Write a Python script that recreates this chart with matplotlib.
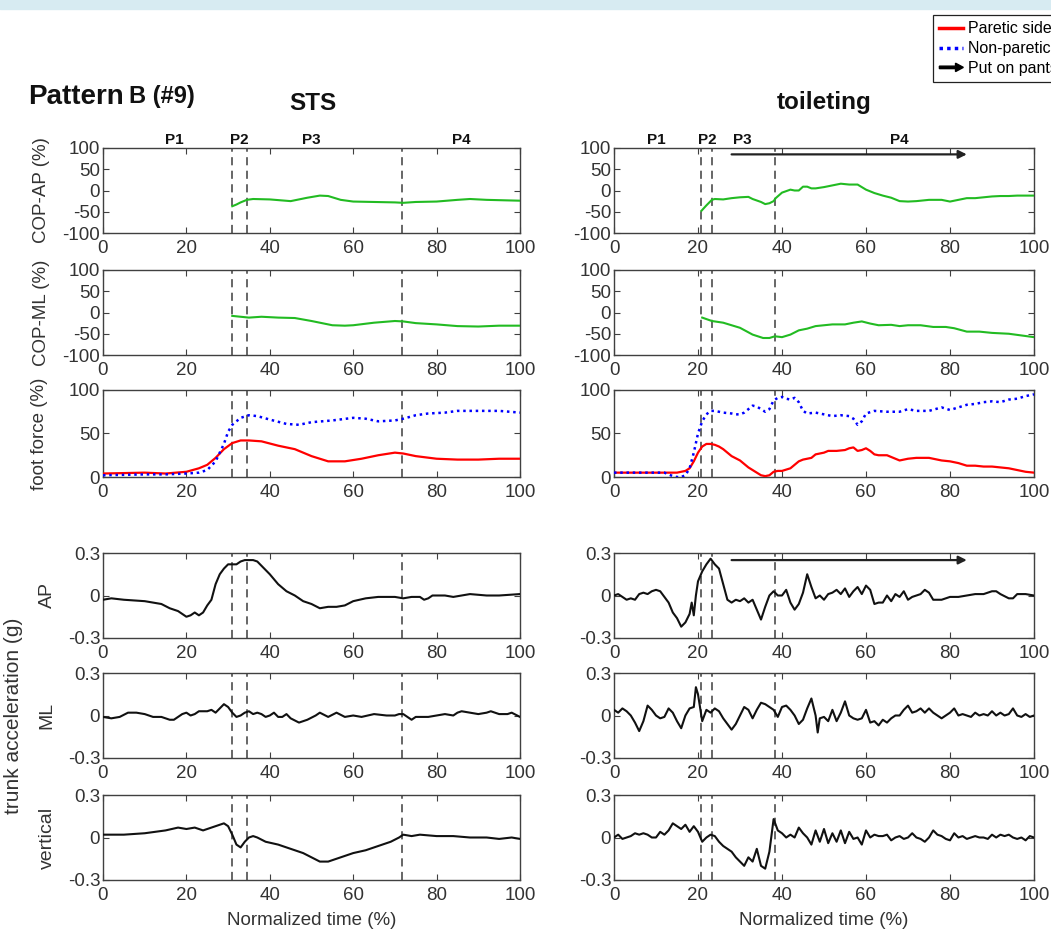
import matplotlib
matplotlib.use("Agg")
import matplotlib.pyplot as plt
from matplotlib.legend_handler import HandlerBase
from matplotlib.patches import FancyArrow, Rectangle
from matplotlib.lines import Line2D

plt.rcParams['font.family'] = ['Liberation Sans', 'DejaVu Sans']
plt.rcParams['axes.unicode_minus'] = False

# ---------------- data ----------------
phase_sts = [31, 34.5, 71.7]
phase_toi = [20.8, 23.3, 38.3]
phase_labels = ["P1", "P2", "P3", "P4"]
phase_label_x_sts = [17, 32.8, 50, 86]
phase_label_x_toi = [10, 22.2, 30.5, 68]
arrow_x_toi = [28, 84]

# STS COP-AP
sts_cop_ap_x = [31, 32, 33, 34.5, 36, 40, 45, 49, 52, 54, 57, 60, 65, 70, 72, 75, 80, 85, 88, 92, 96, 100]
sts_cop_ap_y = [-37, -33, -28, -22, -20, -21, -25, -17, -12, -13, -22, -26, -27, -28, -29, -27, -26, -22, -20, -22, -23, -24]
# STS COP-ML
sts_cop_ml_x = [31, 33, 35, 38, 42, 46, 50, 55, 58, 60, 65, 70, 72, 75, 80, 85, 90, 95, 100]
sts_cop_ml_y = [-8, -10, -12, -10, -12, -13, -20, -30, -31, -30, -24, -20, -21, -25, -28, -32, -33, -31, -31]
# STS foot force
sts_red_x = [0, 10, 15, 20, 23, 25, 27, 29, 31, 33, 35, 38, 42, 46, 50, 54, 58, 62, 66, 70, 72, 75, 80, 85, 90, 95, 100]
sts_red_y = [4, 5, 4, 6, 10, 14, 22, 32, 39, 42, 42, 41, 36, 32, 24, 18, 18, 21, 25, 28, 27, 24, 21, 20, 20, 21, 21]
sts_blue_x = [0, 10, 15, 20, 23, 25, 27, 29, 30, 31, 33, 35, 37, 40, 44, 47, 50, 55, 60, 63, 66, 70, 72, 75, 78, 82, 85, 90, 95, 100]
sts_blue_y = [2, 3, 3, 4, 5, 8, 18, 38, 52, 60, 68, 71, 70, 66, 61, 60, 63, 65, 68, 67, 64, 65, 67, 71, 73, 74, 76, 76, 76, 74]
# STS trunk acceleration AP
sts_ap_x = [0, 2, 5, 10, 14, 16, 18, 20, 21, 22, 23, 24, 25, 26, 27, 28, 29, 30, 31, 32, 33, 34, 36, 37, 38, 40, 42, 44, 46, 48, 50, 52, 54, 56, 58, 60, 63, 66, 70, 72, 74, 76, 77, 78, 79, 82, 84, 88, 92, 95, 100]
sts_ap_y = [-0.03, -0.02, -0.03, -0.04, -0.06, -0.09, -0.11, -0.15, -0.14, -0.12, -0.14, -0.12, -0.07, -0.03, 0.08, 0.15, 0.19, 0.22, 0.22, 0.22, 0.24, 0.25, 0.25, 0.24, 0.21, 0.15, 0.08, 0.03, 0.0, -0.04, -0.06, -0.09, -0.08, -0.08, -0.07, -0.04, -0.02, -0.01, -0.01, -0.02, -0.01, -0.01, -0.03, -0.02, 0.0, 0.0, -0.01, 0.01, 0.0, 0.0, 0.01]
# STS trunk acceleration ML
sts_ml_x = [0, 2, 4, 6, 8, 10, 12, 14, 16, 17, 19, 20, 21, 22, 23, 25, 26, 27, 28, 29, 30, 31, 32, 33, 34, 35, 36, 37, 38, 39, 40, 41, 42, 43, 44, 45, 47, 49, 51, 52, 54, 56, 58, 60, 62, 65, 68, 70, 71, 72, 73, 74, 75, 78, 80, 82, 84, 85, 86, 88, 90, 92, 93, 95, 97, 98, 100]
sts_ml_y = [-0.01, -0.02, -0.01, 0.02, 0.02, 0.01, -0.01, -0.01, -0.03, -0.03, 0.01, 0.02, 0.0, 0.01, 0.03, 0.03, 0.04, 0.02, 0.05, 0.08, 0.06, 0.02, -0.01, 0.0, 0.02, 0.03, 0.01, 0.02, 0.01, -0.01, 0.0, 0.02, -0.01, -0.01, 0.01, -0.02, -0.05, -0.03, 0.0, 0.02, -0.01, 0.02, -0.01, 0.0, -0.01, 0.01, 0.0, 0.0, 0.01, 0.01, -0.01, -0.03, -0.01, -0.01, 0.0, 0.01, 0.0, 0.02, 0.03, 0.02, 0.01, 0.02, 0.03, 0.01, 0.01, 0.02, -0.01]
# STS trunk acceleration vertical
sts_v_x = [0, 5, 10, 15, 18, 20, 22, 24, 26, 28, 29, 30, 31, 32, 33, 34, 35, 36, 37, 39, 42, 45, 48, 50, 52, 54, 56, 58, 60, 63, 66, 69, 71, 72, 74, 76, 80, 84, 88, 92, 95, 98, 100]
sts_v_y = [0.02, 0.02, 0.03, 0.05, 0.07, 0.06, 0.07, 0.05, 0.07, 0.09, 0.1, 0.08, 0.02, -0.05, -0.07, -0.03, 0.0, 0.01, 0.0, -0.03, -0.05, -0.08, -0.11, -0.14, -0.17, -0.17, -0.15, -0.13, -0.11, -0.09, -0.06, -0.03, 0.0, 0.02, 0.01, 0.02, 0.01, 0.01, 0.0, 0.0, -0.01, 0.0, -0.01]

# toileting COP-AP
toi_cop_ap_x = [20.8, 22, 23.3, 24, 26, 28, 30, 32, 33, 35, 36, 37, 38, 38.5, 40, 42, 43, 44, 45, 46, 47, 48, 50, 52, 54, 56, 58, 60, 62, 64, 66, 68, 70, 72, 75, 78, 80, 82, 84, 86, 88, 90, 92, 94, 96, 98, 100]
toi_cop_ap_y = [-48, -35, -22, -20, -21, -18, -16, -15, -20, -27, -32, -30, -25, -18, -5, 2, 0, 0, 9, 9, 5, 5, 8, 12, 16, 14, 14, 2, -6, -12, -17, -25, -26, -25, -22, -22, -26, -22, -18, -18, -16, -14, -13, -13, -12, -12, -12]
# toileting COP-ML
toi_cop_ml_x = [21, 23.3, 26, 30, 33, 35.5, 37, 38.3, 40, 42, 44, 46, 48, 50, 52, 55, 57, 59, 61, 63, 66, 68, 70, 73, 76, 79, 81, 84, 87, 90, 94, 97, 100]
toi_cop_ml_y = [-12, -20, -24, -36, -52, -60, -60, -56, -58, -52, -42, -38, -32, -30, -28, -28, -24, -21, -26, -30, -29, -32, -30, -30, -34, -34, -37, -45, -45, -48, -50, -54, -58]
# toileting foot force
toi_red_x = [0, 5, 10, 15, 17, 18, 19, 20, 21, 22, 23, 24, 25, 26, 27, 28, 30, 31, 32, 33, 34, 35, 36, 37, 38, 39, 40, 42, 43, 44, 45, 47, 48, 50, 51, 53, 55, 56, 57, 58, 59, 60, 61, 62, 63, 65, 67, 68, 70, 72, 75, 78, 80, 82, 84, 86, 88, 90, 92, 94, 96, 98, 100]
toi_red_y = [5, 5, 5, 5, 7, 10, 18, 28, 35, 38, 38, 37, 35, 32, 28, 24, 19, 15, 11, 8, 5, 2, 1, 2, 6, 7, 7, 10, 14, 18, 20, 22, 26, 28, 30, 30, 31, 33, 34, 30, 31, 33, 30, 26, 25, 25, 21, 19, 21, 22, 22, 19, 18, 16, 13, 13, 12, 12, 11, 10, 8, 6, 5]
toi_blue_x = [0, 5, 10, 12, 13, 14, 15, 16, 17, 18, 19, 20, 21, 22, 23, 24, 26, 28, 29, 30, 31, 32, 33, 34, 35, 36, 37, 38, 39, 40, 41, 42, 43, 44, 45, 46, 48, 50, 52, 54, 56, 57, 58, 59, 60, 62, 65, 68, 70, 72, 75, 78, 80, 82, 84, 86, 88, 90, 92, 94, 96, 98, 100]
toi_blue_y = [5, 5, 5, 5, 3, 1, 0, 0, 2, 10, 28, 50, 64, 72, 76, 76, 74, 73, 72, 72, 74, 78, 82, 81, 78, 75, 78, 88, 91, 92, 90, 89, 91, 86, 76, 73, 74, 72, 70, 71, 70, 67, 60, 64, 73, 76, 75, 75, 78, 76, 76, 80, 77, 80, 83, 84, 86, 87, 86, 89, 90, 93, 95]
# toileting trunk acceleration AP
toi_ap_x = [0, 1, 2, 3, 4, 5, 6, 7, 8, 9, 10, 11, 12, 13, 14, 15, 16, 17, 18, 18.5, 19, 19.5, 20, 21, 22, 23, 24, 25, 26, 27, 28, 29, 30, 31, 32, 33, 34, 35, 36, 37, 38, 39, 40, 41, 42, 43, 44, 45, 46, 47, 48, 49, 50, 51, 52, 53, 54, 55, 56, 57, 58, 59, 60, 61, 62, 63, 64, 65, 66, 67, 68, 69, 70, 71, 72, 73, 74, 75, 76, 78, 80, 82, 84, 86, 88, 90, 91, 92, 94, 95, 96, 98, 100]
toi_ap_y = [0.0, 0.01, -0.01, -0.03, -0.02, -0.03, 0.01, 0.02, 0.01, 0.03, 0.04, 0.03, -0.01, -0.05, -0.12, -0.16, -0.22, -0.19, -0.13, -0.05, -0.14, 0.0, 0.1, 0.17, 0.22, 0.26, 0.22, 0.19, 0.08, -0.03, -0.05, -0.03, -0.04, -0.02, -0.05, -0.03, -0.1, -0.17, -0.08, 0.0, 0.03, 0.0, 0.0, 0.04, -0.05, -0.1, -0.06, 0.02, 0.15, 0.06, -0.02, 0.0, -0.03, 0.01, 0.02, 0.04, 0.01, 0.05, -0.01, 0.03, 0.06, 0.01, 0.07, 0.04, -0.06, -0.05, -0.05, 0.0, -0.04, 0.01, -0.01, 0.03, -0.03, -0.01, 0.0, 0.01, 0.04, 0.02, -0.03, -0.03, -0.01, -0.01, 0.0, 0.01, 0.01, 0.03, 0.03, 0.01, -0.02, -0.02, 0.01, 0.01, 0.0]
# toileting trunk acceleration ML
toi_ml_x = [0, 1, 2, 3, 4, 5, 6, 7, 8, 9, 10, 11, 12, 13, 14, 15, 16, 17, 18, 19, 19.5, 20, 21, 22, 23, 24, 25, 26, 27, 28, 29, 30, 31, 32, 33, 34, 35, 36, 37, 38, 39, 40, 41, 42, 43, 44, 45, 46, 47, 48, 48.5, 49, 50, 51, 52, 53, 54, 55, 56, 57, 58, 59, 60, 61, 62, 63, 64, 65, 66, 67, 68, 69, 70, 71, 72, 73, 74, 75, 76, 77, 78, 79, 80, 81, 82, 83, 84, 85, 86, 87, 88, 89, 90, 91, 92, 93, 94, 95, 96, 97, 98, 99, 100]
toi_ml_y = [0.04, 0.02, 0.05, 0.03, 0.0, -0.05, -0.11, -0.04, 0.07, 0.04, 0.0, -0.02, -0.01, 0.05, 0.02, -0.04, -0.09, 0.0, 0.05, 0.06, 0.2, 0.15, -0.04, 0.04, 0.02, 0.05, 0.03, -0.02, -0.06, -0.1, -0.06, 0.0, 0.06, 0.04, -0.02, 0.04, 0.09, 0.08, 0.06, 0.04, -0.01, 0.06, 0.07, 0.04, 0.0, -0.06, -0.03, 0.05, 0.12, 0.0, -0.12, -0.02, -0.01, -0.04, 0.04, -0.04, 0.02, 0.1, 0.0, -0.02, -0.03, -0.02, 0.04, -0.05, -0.04, -0.07, -0.03, -0.05, -0.02, 0.0, 0.0, 0.04, 0.07, 0.02, 0.03, 0.05, 0.02, 0.05, 0.02, 0.0, -0.02, 0.0, 0.02, 0.05, 0.0, 0.01, 0.0, -0.01, 0.02, 0.0, 0.01, 0.0, 0.03, 0.0, 0.02, 0.0, 0.01, 0.05, 0.0, -0.01, 0.01, -0.01, 0.0]
# toileting trunk acceleration vertical
toi_v_x = list(range(0, 101))
toi_v_y = [0.0, 0.02, -0.01, 0.0, 0.01, 0.03, 0.02, 0.03, 0.02, 0.0, 0.0, 0.04, 0.02, 0.05, 0.1, 0.08, 0.06, 0.09, 0.04, 0.08, 0.04, -0.03, 0.0, 0.02, 0.01, -0.03, -0.06, -0.08, -0.1, -0.14, -0.17, -0.2, -0.14, -0.17, -0.08, -0.2, -0.22, -0.1, 0.13, 0.05, 0.03, 0.0, 0.02, 0.0, 0.07, 0.03, 0.0, -0.05, 0.05, -0.03, 0.06, -0.04, 0.03, -0.03, 0.05, -0.04, 0.04, -0.01, 0.0, -0.05, 0.05, 0.0, 0.02, 0.01, 0.01, 0.02, -0.02, 0.0, 0.01, -0.01, 0.0, 0.03, 0.0, -0.01, -0.03, 0.0, 0.05, 0.02, 0.01, -0.01, -0.02, 0.03, 0.0, 0.01, -0.01, 0.0, 0.01, 0.0, 0.0, -0.01, 0.02, 0.0, 0.02, 0.01, 0.02, 0.0, -0.01, 0.0, -0.02, 0.01, 0.0]

cop_ticks = [-100, -50, 0, 50, 100]
cop_ticklabels = ["-100", "-50", "0", "50", "100"]
ff_ticks = [0, 50, 100]
acc_ticks = [-0.3, 0, 0.3]
acc_ticklabels = ["-0.3", "0", "0.3"]
x_ticks = [0, 20, 40, 60, 80, 100]

# ---------------- figure ----------------
W, H = 1051, 934
fig = plt.figure(figsize=(W / 100, H / 100), dpi=100)
fig.patches.append(Rectangle((0, 1 - 9 / H), 1, 9 / H, transform=fig.transFigure,
                             color='#d7ebf2', zorder=0))

rows_px = [(148, 233), (270, 355), (390, 477), (553, 638), (673, 758), (795, 880)]
cols_px = [(103, 520), (614, 1034)]

GREEN = '#22bb22'
SPINE = '#404040'
TICKC = '#333333'
TICKSIZE = 13.5


def make_ax(col, row):
    (l, r) = cols_px[col]
    (t, b) = rows_px[row]
    ax = fig.add_axes([l / W, 1 - b / H, (r - l) / W, (b - t) / H])
    ax.set_xlim(0, 100)
    ax.set_xticks(x_ticks)
    ax.tick_params(direction='in', top=True, right=True, length=4, width=0.8,
                   labelsize=TICKSIZE, colors=SPINE, labelcolor=TICKC, pad=2)
    ax.tick_params(axis='x', pad=5)
    for s in ax.spines.values():
        s.set_color(SPINE)
        s.set_linewidth(1.0)
    return ax


def ylab(ax, text, xpx, size):
    (l, r) = (103, 520)
    ax.set_ylabel(text, fontsize=size, color=TICKC)
    ax.yaxis.label.set_va('center')
    ax.yaxis.set_label_coords((xpx - l) / (r - l), 0.5)


def vlines(ax, xs):
    for x in xs:
        ax.axvline(x, color='#5a5a5a', lw=1.3, ls=(0, (4.5, 3)), zorder=1)


cols = [
    dict(phase=phase_sts, plx=phase_label_x_sts,
         cop_ap=(sts_cop_ap_x, sts_cop_ap_y), cop_ml=(sts_cop_ml_x, sts_cop_ml_y),
         red=(sts_red_x, sts_red_y), blue=(sts_blue_x, sts_blue_y),
         ap=(sts_ap_x, sts_ap_y), ml=(sts_ml_x, sts_ml_y), v=(sts_v_x, sts_v_y)),
    dict(phase=phase_toi, plx=phase_label_x_toi,
         cop_ap=(toi_cop_ap_x, toi_cop_ap_y), cop_ml=(toi_cop_ml_x, toi_cop_ml_y),
         red=(toi_red_x, toi_red_y), blue=(toi_blue_x, toi_blue_y),
         ap=(toi_ap_x, toi_ap_y), ml=(toi_ml_x, toi_ml_y), v=(toi_v_x, toi_v_y)),
]

YLS = 13.5
for ci, d in enumerate(cols):
    # COP-AP
    ax = make_ax(ci, 0)
    vlines(ax, d['phase'])
    ax.plot(*d['cop_ap'], color=GREEN, lw=1.5, zorder=3)
    ax.set_ylim(-100, 100)
    ax.set_yticks(cop_ticks)
    ax.set_yticklabels(cop_ticklabels)
    for lab, x in zip(phase_labels, d['plx']):
        ax.text(x, 103, lab, ha='center', va='bottom', fontsize=11,
                fontweight='bold', color='#111111')
    if ci == 0:
        ylab(ax, "COP-AP (%)", 41, YLS)
    else:
        ax.annotate('', xy=(arrow_x_toi[1], 85), xytext=(arrow_x_toi[0], 85),
                    arrowprops=dict(arrowstyle='-|>', color='#222222', lw=1.6,
                                    mutation_scale=12, shrinkA=0, shrinkB=0))
    # COP-ML
    ax = make_ax(ci, 1)
    vlines(ax, d['phase'])
    ax.plot(*d['cop_ml'], color=GREEN, lw=1.5, zorder=3)
    ax.set_ylim(-100, 100)
    ax.set_yticks(cop_ticks)
    ax.set_yticklabels(cop_ticklabels)
    if ci == 0:
        ylab(ax, "COP-ML (%)", 41, YLS)
    # foot force
    ax = make_ax(ci, 2)
    vlines(ax, d['phase'])
    ax.plot(*d['red'], color='#ff0000', lw=1.6, zorder=3)
    ax.plot(*d['blue'], color='#0000ff', lw=1.8, ls=(0, (1, 1.5)), zorder=4)
    ax.set_ylim(0, 100)
    ax.set_yticks(ff_ticks)
    if ci == 0:
        ylab(ax, "foot force (%)", 40, YLS)
    # accelerations
    for ri, key, lab in [(3, 'ap', 'AP'), (4, 'ml', 'ML'), (5, 'v', 'vertical')]:
        ax = make_ax(ci, ri)
        vlines(ax, d['phase'])
        ax.plot(*d[key], color='#111111', lw=1.5, zorder=3)
        ax.set_ylim(-0.3, 0.3)
        ax.set_yticks(acc_ticks)
        ax.set_yticklabels(acc_ticklabels)
        if ci == 0:
            ylab(ax, lab, 47, 14)
        if ri == 3 and ci == 1:
            ax.annotate('', xy=(arrow_x_toi[1], 0.25), xytext=(arrow_x_toi[0], 0.25),
                        arrowprops=dict(arrowstyle='-|>', color='#222222', lw=1.6,
                                        mutation_scale=12, shrinkA=0, shrinkB=0))
        if ri == 5:
            ax.set_xlabel("Normalized time (%)", fontsize=13.5, color=TICKC)
            ax.xaxis.set_label_coords(0.5, -0.38)

# titles
t1 = fig.text(28 / W, 1 - 97 / H, "Pattern", fontsize=20, fontweight='bold',
              ha='left', va='center', color='#111111')
fig.canvas.draw()
bb = t1.get_window_extent()
fig.text((bb.x1 + 5) / W, 1 - 97 / H, "B (#9)", fontsize=17, fontweight='bold',
         ha='left', va='center', color='#111111')
fig.text(313 / W, 1 - 103 / H, "STS", fontsize=17.5, fontweight='bold',
         ha='center', va='center', color='#111111')
fig.text(824 / W, 1 - 103 / H, "toileting", fontsize=17.5, fontweight='bold',
         ha='center', va='center', color='#111111')
fig.text(14 / W, 1 - 716 / H, "trunk acceleration (g)", fontsize=15, rotation=90,
         ha='center', va='center', color=TICKC)


# legend
class ArrowProxy:
    pass


class ArrowHandler(HandlerBase):
    def create_artists(self, legend, orig_handle, xdescent, ydescent, width,
                       height, fontsize, trans):
        y = height / 2 - ydescent
        p = FancyArrow(-xdescent, y, width, 0, width=height * 0.22,
                       head_width=height * 0.75, head_length=height * 0.7,
                       length_includes_head=True, color='black', transform=trans)
        return [p]


h_red = Line2D([], [], color='#ff0000', lw=2.5)
h_blue = Line2D([], [], color='#0000ff', lw=2.5, ls=(0, (1, 1.2)))
leg = fig.legend([h_red, h_blue, ArrowProxy()],
                 ["Paretic side", "Non-paretic side", "Put on pants"],
                 handler_map={ArrowProxy: ArrowHandler()},
                 loc='upper left', bbox_to_anchor=(933 / W, 1 - 15 / H),
                 fontsize=11.5, frameon=True, fancybox=False, framealpha=1,
                 edgecolor='#222222', handlelength=1.5, handletextpad=0.3,
                 borderpad=0.4, labelspacing=0.3, borderaxespad=0)
leg.get_frame().set_linewidth(0.9)

fig.savefig("out.png", dpi=100)
